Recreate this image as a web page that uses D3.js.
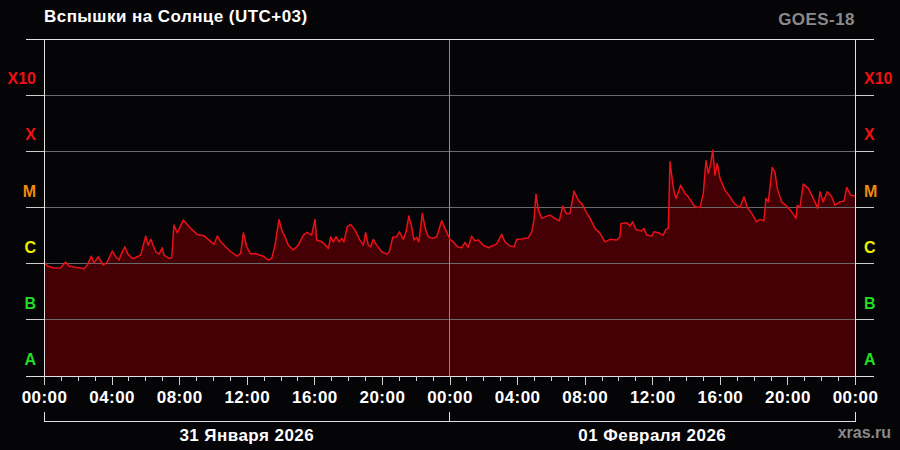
<!DOCTYPE html>
<html><head><meta charset="utf-8">
<script src="https://cdn.jsdelivr.net/npm/d3@7"></script>
<style>html,body{margin:0;padding:0;background:#050407;}svg{display:block;}</style>
</head><body><svg id="c" width="900" height="450"></svg>
<script>
// hours since 31 Jan 2026 00:00 (UTC+03)
const hours = [0.00,0.20,0.59,0.99,1.28,1.48,1.78,2.07,2.37,2.56,2.80,2.96,3.21,3.51,3.75,4.04,4.24,4.44,4.57,4.78,4.97,5.23,5.43,5.72,6.02,6.16,6.32,6.61,6.81,7.00,7.10,7.40,7.56,7.69,7.89,8.24,8.68,9.07,9.47,9.77,10.06,10.26,10.46,10.75,11.05,11.44,11.64,11.80,12.00,12.23,12.49,12.98,13.28,13.48,13.67,13.91,14.07,14.26,14.46,14.75,15.05,15.35,15.58,15.84,16.04,16.14,16.44,16.63,16.83,16.97,17.12,17.28,17.48,17.62,17.75,17.95,18.15,18.41,18.70,18.90,19.04,19.19,19.34,19.49,19.69,19.99,20.28,20.44,20.64,20.87,21.03,21.27,21.43,21.59,21.76,21.90,22.06,22.19,22.39,22.59,22.75,23.01,23.24,23.54,23.73,24.03,24.22,24.46,24.72,24.92,25.11,25.31,25.51,25.70,26.00,26.30,26.50,26.79,27.09,27.28,27.58,27.83,27.98,28.27,28.66,28.87,29.00,29.12,29.26,29.46,29.75,29.95,30.24,30.50,30.70,30.90,31.13,31.37,31.62,31.82,32.12,32.32,32.61,32.91,33.20,33.50,33.90,34.09,34.15,34.49,34.68,34.84,35.04,35.37,35.51,35.67,35.97,36.10,36.36,36.65,36.81,36.95,37.05,37.19,37.29,37.41,37.68,37.94,38.13,38.53,38.83,39.02,39.18,39.32,39.46,39.58,39.71,39.85,40.01,40.30,40.60,40.89,41.19,41.43,41.63,41.89,42.18,42.38,42.61,42.73,42.87,43.10,43.26,43.40,43.66,43.96,44.25,44.51,44.58,44.74,44.94,45.24,45.38,45.63,45.79,45.93,46.12,46.36,46.62,46.82,47.11,47.35,47.51,47.74,48.00];
// X-ray flux, W/m^2
const flux = [1.08e-6,9.06e-7,8.35e-7,8.46e-7,1.07e-6,9.06e-7,8.7e-7,8.46e-7,8.1e-7,9.44e-7,1.36e-6,1.03e-6,1.33e-6,9.44e-7,1.08e-6,1.68e-6,1.33e-6,1.16e-6,1.48e-6,2.0e-6,1.48e-6,1.24e-6,1.29e-6,1.42e-6,3.1e-6,2.14e-6,2.71e-6,1.63e-6,1.48e-6,1.92e-6,1.42e-6,1.24e-6,1.27e-6,4.86e-6,3.55e-6,5.97e-6,4.25e-6,3.32e-6,3.13e-6,2.63e-6,2.2e-6,3.1e-6,2.45e-6,2.0e-6,1.63e-6,1.36e-6,1.52e-6,3.55e-6,2.0e-6,1.48e-6,1.52e-6,1.36e-6,1.16e-6,1.24e-6,2.14e-6,6.14e-6,3.96e-6,3.01e-6,2.14e-6,1.75e-6,2.14e-6,3.23e-6,3.61e-6,3.23e-6,6.14e-6,2.63e-6,2.45e-6,2.2e-6,1.87e-6,3.01e-6,2.45e-6,3.01e-6,2.45e-6,2.82e-6,2.45e-6,4.54e-6,5.0e-6,3.96e-6,2.63e-6,2.14e-6,3.55e-6,2.14e-6,2.0e-6,2.71e-6,2.14e-6,1.63e-6,1.48e-6,1.63e-6,2.94e-6,3.01e-6,3.7e-6,2.71e-6,3.7e-6,7.03e-6,4.54e-6,2.63e-6,2.94e-6,2.45e-6,7.85e-6,3.96e-6,3.01e-6,2.82e-6,3.01e-6,5.8e-6,4.25e-6,2.71e-6,2.45e-6,2.0e-6,1.92e-6,2.39e-6,1.95e-6,3.1e-6,2.55e-6,2.63e-6,2.14e-6,1.92e-6,2.06e-6,2.23e-6,3.32e-6,2.45e-6,2.06e-6,2.0e-6,2.71e-6,2.74e-6,2.89e-6,3.7e-6,5.97e-6,1.73e-5,8.99e-6,6.4e-6,7.03e-6,7.32e-6,6.4e-6,5.8e-6,1.06e-5,7.85e-6,7.85e-6,1.96e-5,1.35e-5,1.18e-5,8.05e-6,6.4e-6,4.25e-6,3.46e-6,2.45e-6,2.71e-6,2.63e-6,3.01e-6,5.21e-6,5.35e-6,4.67e-6,5.57e-6,4.07e-6,3.8e-6,4.25e-6,3.23e-6,3.1e-6,3.7e-6,3.55e-6,3.23e-6,4.07e-6,4.25e-6,6.5e-5,3.07e-5,1.9e-5,1.45e-5,2.5e-5,1.78e-5,1.55e-5,1.03e-5,1.0e-5,1.78e-5,6.78e-5,4.05e-5,6.1e-5,1.05e-4,3.78e-5,6.1e-5,3.3e-5,2.04e-5,1.55e-5,1.15e-5,1.0e-5,1.55e-5,1.0e-5,7.85e-6,5.57e-6,6.14e-6,5.8e-6,1.45e-5,1.26e-5,5.17e-5,4.32e-5,2.19e-5,1.26e-5,1.06e-5,8.38e-6,6.4e-6,1.1e-5,1.0e-5,2.61e-5,2.19e-5,1.78e-5,1.26e-5,9.64e-6,1.9e-5,1.26e-5,1.9e-5,1.55e-5,1.1e-5,1.26e-5,1.3e-5,2.28e-5,1.66e-5,1.6e-5];
const classLabels = ["A","B","C","M","X","X10"];
const classColors = ["#22dd22","#22dd22","#eeee00","#f08a10","#ee1111","#ee1111"];
const classLevels = [1e-8,1e-7,1e-6,1e-5,1e-4,1e-3,1e-2];
const dateLabels = ["31 Января 2026","01 Февраля 2026"];
const titleText = "Вспышки на Солнце (UTC+03)";
const satText = "GOES-18";
const siteText = "xras.ru";

const svg = d3.select("#c");
const L = 44, R = 855, T = 39, B = 376;
const x = d3.scaleLinear().domain([0,48]).range([L,R]);
const y = d3.scaleLog().domain([1e-8,1e-2]).range([B,T]);
const font = "'Liberation Sans', Arial, sans-serif";
const LS = "0.45px";

svg.append("rect").attr("width",900).attr("height",450).attr("fill","#050407");

const data = hours.map((h,i)=>({h, f: flux[i]}));

// area
svg.append("path").datum(data)
  .attr("d", d3.area().x(d=>x(d.h)).y0(B).y1(d=>y(d.f)))
  .attr("fill","#440005");

// inner gridlines
svg.append("g").selectAll("line").data(classLevels.slice(1,-1)).join("line")
  .attr("x1",L).attr("x2",R).attr("y1",d=>y(d)).attr("y2",d=>y(d))
  .attr("stroke","#6a6a6a").attr("stroke-width",1).attr("shape-rendering","crispEdges");
// outer ticks on y
svg.append("g").selectAll("line").data(classLevels.slice(1,-1)).join("line")
  .attr("x1",26).attr("x2",L).attr("y1",d=>y(d)).attr("y2",d=>y(d))
  .attr("stroke","#cccccc").attr("shape-rendering","crispEdges");
svg.append("g").selectAll("line").data(classLevels.slice(1,-1)).join("line")
  .attr("x1",R).attr("x2",874).attr("y1",d=>y(d)).attr("y2",d=>y(d))
  .attr("stroke","#cccccc").attr("shape-rendering","crispEdges");

// midnight line
svg.append("line").attr("x1",x(24)).attr("x2",x(24)).attr("y1",T).attr("y2",B)
  .attr("stroke","#8a8a8a").attr("shape-rendering","crispEdges");

// flux line
svg.append("path").datum(data)
  .attr("d", d3.line().x(d=>x(d.h)).y(d=>y(d.f)))
  .attr("fill","none").attr("stroke","#ea1018").attr("stroke-width",1.5).attr("stroke-linejoin","round");

// frame
[1e-2,1e-8].forEach(v=>{
  svg.append("line").attr("x1",26).attr("x2",874).attr("y1",y(v)).attr("y2",y(v))
    .attr("stroke","#e0e0e0").attr("shape-rendering","crispEdges");
});
[0,48].forEach(v=>{
  svg.append("line").attr("x1",x(v)).attr("x2",x(v)).attr("y1",T).attr("y2",B)
    .attr("stroke","#e0e0e0").attr("shape-rendering","crispEdges");
});

// x axis ticks
const minorAxis = d3.axisBottom(x).tickValues(d3.range(0,49,1)).tickSize(5).tickFormat("");
const gMinor = svg.append("g").attr("transform",`translate(0,${B})`).call(minorAxis);
const majorAxis = d3.axisBottom(x).tickValues(d3.range(0,49,4)).tickSize(9).tickPadding(6)
  .tickFormat(h=>String(h%24).padStart(2,"0")+":00");
const gMajor = svg.append("g").attr("transform",`translate(0,${B})`).call(majorAxis);
[gMinor,gMajor].forEach(g=>{
  g.select(".domain").remove();
  g.selectAll(".tick line").attr("stroke","#d0d0d0").attr("shape-rendering","crispEdges");
});
gMajor.selectAll(".tick text").attr("fill","#ffffff").attr("font-family",font)
  .attr("font-weight","bold").attr("font-size","17px").attr("letter-spacing",LS)
  .attr("dy",null).attr("y",27).attr("dominant-baseline","auto");

// date bracket
const by = 421.5;
svg.append("line").attr("x1",x(0)).attr("x2",x(48)).attr("y1",by).attr("y2",by).attr("stroke","#e0e0e0");
[0,24,48].forEach(v=>{
  svg.append("line").attr("x1",x(v)).attr("x2",x(v)).attr("y1",412).attr("y2",by)
    .attr("stroke","#e0e0e0").attr("shape-rendering","crispEdges");
});
svg.append("g").selectAll("text").data(dateLabels).join("text")
  .attr("x",(d,i)=>x(i*24+12)).attr("y",441).attr("text-anchor","middle")
  .attr("fill","#ffffff").attr("font-family",font).attr("font-weight","bold").attr("font-size","17px")
  .attr("letter-spacing",LS).text(d=>d);

// class labels
const bands = classLabels.map((c,i)=>({c, col: classColors[i], lo: classLevels[i]}));
svg.append("g").selectAll("text").data(bands).join("text")
  .attr("x",36).attr("y",d=>y(d.lo)-11).attr("text-anchor","end")
  .attr("fill",d=>d.col).attr("font-family",font).attr("font-weight","bold").attr("font-size","16px")
  .text(d=>d.c);
svg.append("g").selectAll("text").data(bands).join("text")
  .attr("x",864).attr("y",d=>y(d.lo)-11).attr("text-anchor","start")
  .attr("fill",d=>d.col).attr("font-family",font).attr("font-weight","bold").attr("font-size","16px")
  .text(d=>d.c);

// titles
svg.append("text").attr("x",44).attr("y",22).attr("fill","#ffffff").attr("font-family",font)
  .attr("font-weight","bold").attr("font-size","17px").attr("letter-spacing",LS).text(titleText);
svg.append("text").attr("x",855).attr("y",25).attr("text-anchor","end").attr("fill","#8a8a8a")
  .attr("font-family",font).attr("font-weight","bold").attr("font-size","17px").attr("letter-spacing",LS).text(satText);
svg.append("text").attr("x",891).attr("y",438).attr("text-anchor","end").attr("fill","#8a8a8a")
  .attr("font-family",font).attr("font-weight","bold").attr("font-size","16px").text(siteText);
</script></body></html>
